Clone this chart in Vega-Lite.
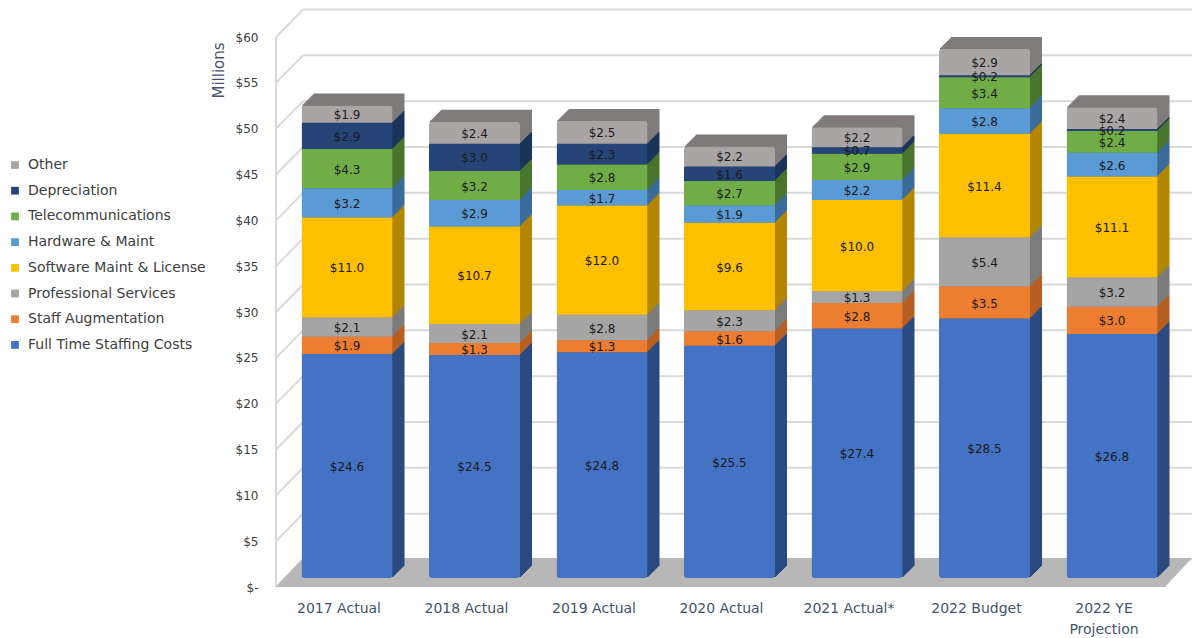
{
"$schema":"https://vega.github.io/schema/vega-lite/v6.json",
"width":889,"height":550,
"autosize":{"type":"none"},
"padding":{"left":276,"top":37,"right":27,"bottom":51},
"background":"white",
"config":{"view":{"stroke":null},"font":"DejaVu Sans"},
"datasets":{
"walls":[{"tick":0,"back":3},{"tick":5,"back":8},{"tick":10,"back":13},{"tick":15,"back":18},{"tick":20,"back":23},{"tick":25,"back":28},{"tick":30,"back":33},{"tick":35,"back":38},{"tick":40,"back":43},{"tick":45,"back":48},{"tick":50,"back":53},{"tick":55,"back":58},{"tick":60,"back":63}],
"floor":[{"level":0,"left":0,"right":1},{"level":3.16,"left":0.0304,"right":1.0304}],
"costs":[
{"year":"2017 Actual","series":"Full Time Staffing Costs","rank":1,"value":24.6},{"year":"2017 Actual","series":"Staff Augmentation","rank":2,"value":1.9},{"year":"2017 Actual","series":"Professional Services","rank":3,"value":2.1},{"year":"2017 Actual","series":"Software Maint & License","rank":4,"value":11.0},{"year":"2017 Actual","series":"Hardware & Maint","rank":5,"value":3.2},{"year":"2017 Actual","series":"Telecommunications","rank":6,"value":4.3},{"year":"2017 Actual","series":"Depreciation","rank":7,"value":2.9},{"year":"2017 Actual","series":"Other","rank":8,"value":1.9},
{"year":"2018 Actual","series":"Full Time Staffing Costs","rank":1,"value":24.5},{"year":"2018 Actual","series":"Staff Augmentation","rank":2,"value":1.3},{"year":"2018 Actual","series":"Professional Services","rank":3,"value":2.1},{"year":"2018 Actual","series":"Software Maint & License","rank":4,"value":10.7},{"year":"2018 Actual","series":"Hardware & Maint","rank":5,"value":2.9},{"year":"2018 Actual","series":"Telecommunications","rank":6,"value":3.2},{"year":"2018 Actual","series":"Depreciation","rank":7,"value":3.0},{"year":"2018 Actual","series":"Other","rank":8,"value":2.4},
{"year":"2019 Actual","series":"Full Time Staffing Costs","rank":1,"value":24.8},{"year":"2019 Actual","series":"Staff Augmentation","rank":2,"value":1.3},{"year":"2019 Actual","series":"Professional Services","rank":3,"value":2.8},{"year":"2019 Actual","series":"Software Maint & License","rank":4,"value":12.0},{"year":"2019 Actual","series":"Hardware & Maint","rank":5,"value":1.7},{"year":"2019 Actual","series":"Telecommunications","rank":6,"value":2.8},{"year":"2019 Actual","series":"Depreciation","rank":7,"value":2.3},{"year":"2019 Actual","series":"Other","rank":8,"value":2.5},
{"year":"2020 Actual","series":"Full Time Staffing Costs","rank":1,"value":25.5},{"year":"2020 Actual","series":"Staff Augmentation","rank":2,"value":1.6},{"year":"2020 Actual","series":"Professional Services","rank":3,"value":2.3},{"year":"2020 Actual","series":"Software Maint & License","rank":4,"value":9.6},{"year":"2020 Actual","series":"Hardware & Maint","rank":5,"value":1.9},{"year":"2020 Actual","series":"Telecommunications","rank":6,"value":2.7},{"year":"2020 Actual","series":"Depreciation","rank":7,"value":1.6},{"year":"2020 Actual","series":"Other","rank":8,"value":2.2},
{"year":"2021 Actual*","series":"Full Time Staffing Costs","rank":1,"value":27.4},{"year":"2021 Actual*","series":"Staff Augmentation","rank":2,"value":2.8},{"year":"2021 Actual*","series":"Professional Services","rank":3,"value":1.3},{"year":"2021 Actual*","series":"Software Maint & License","rank":4,"value":10.0},{"year":"2021 Actual*","series":"Hardware & Maint","rank":5,"value":2.2},{"year":"2021 Actual*","series":"Telecommunications","rank":6,"value":2.9},{"year":"2021 Actual*","series":"Depreciation","rank":7,"value":0.7},{"year":"2021 Actual*","series":"Other","rank":8,"value":2.2},
{"year":"2022 Budget","series":"Full Time Staffing Costs","rank":1,"value":28.5},{"year":"2022 Budget","series":"Staff Augmentation","rank":2,"value":3.5},{"year":"2022 Budget","series":"Professional Services","rank":3,"value":5.4},{"year":"2022 Budget","series":"Software Maint & License","rank":4,"value":11.4},{"year":"2022 Budget","series":"Hardware & Maint","rank":5,"value":2.8},{"year":"2022 Budget","series":"Telecommunications","rank":6,"value":3.4},{"year":"2022 Budget","series":"Depreciation","rank":7,"value":0.2},{"year":"2022 Budget","series":"Other","rank":8,"value":2.9},
{"year":"2022 YE Projection","series":"Full Time Staffing Costs","rank":1,"value":26.8},{"year":"2022 YE Projection","series":"Staff Augmentation","rank":2,"value":3.0},{"year":"2022 YE Projection","series":"Professional Services","rank":3,"value":3.2},{"year":"2022 YE Projection","series":"Software Maint & License","rank":4,"value":11.1},{"year":"2022 YE Projection","series":"Hardware & Maint","rank":5,"value":2.6},{"year":"2022 YE Projection","series":"Telecommunications","rank":6,"value":2.4},{"year":"2022 YE Projection","series":"Depreciation","rank":7,"value":0.2},{"year":"2022 YE Projection","series":"Other","rank":8,"value":2.4}
]},
"resolve":{"scale":{"x":"independent","y":"independent"}},
"layer":[
{"data":{"name":"walls"},
 "transform":[{"calculate":"0","as":"frontEdge"},{"calculate":"0.0304","as":"backEdge"},{"calculate":"1.0304","as":"backRight"},{"calculate":"0","as":"zero"},{"calculate":"60","as":"topTick"}],
 "encoding":{"y":{"field":"back","type":"quantitative","scale":{"domain":[0,60],"nice":false},
  "axis":{"orient":"left","values":[0,5,10,15,20,25,30,35,40,45,50,55,60],"labelExpr":"datum.value==0?'$-':'$'+datum.value","grid":false,"domain":false,"ticks":false,"tickSize":0,"labelPadding":18,"labelFontSize":12,"labelColor":"#404040","title":"Millions","titleFontSize":15,"titleFontWeight":"normal","titleColor":"#44546a","titleX":-50,"titleY":33,"titleAngle":-90,"titleAlign":"center","titleBaseline":"bottom"}}},
 "layer":[
 {"mark":{"type":"rule","color":"#d9d9d9","strokeWidth":2},
 "encoding":{"x":{"field":"backEdge","type":"quantitative","scale":{"domain":[0,1],"range":[0,889]},"axis":null},"x2":{"field":"backRight"}}},
 {"mark":{"type":"rule","color":"#d9d9d9","strokeWidth":2},
 "encoding":{"x":{"field":"frontEdge","type":"quantitative","scale":{"domain":[0,1],"range":[0,889]},"axis":null},"x2":{"field":"backEdge"},
 "y":{"field":"tick","type":"quantitative"},"y2":{"field":"back"}}},
 {"mark":{"type":"rule","color":"#d9d9d9","strokeWidth":2},
 "encoding":{"x":{"field":"frontEdge","type":"quantitative","scale":{"domain":[0,1],"range":[0,889]},"axis":null},
 "y":{"field":"zero","type":"quantitative"},"y2":{"field":"topTick"}}}
 ]},
{"data":{"name":"floor"},"mark":{"type":"area","orient":"horizontal","color":"#b7b7b7"},
 "encoding":{"y":{"field":"level","type":"quantitative","scale":{"domain":[0,60],"nice":false},"axis":null},
 "x":{"field":"left","type":"quantitative","scale":{"domain":[0,1],"range":[0,889]},"axis":null},"x2":{"field":"right"}}},
{"data":{"name":"costs"},
 "transform":[{"calculate":"datum.series+' side'","as":"face"}],
 "encoding":{
  "x":{"field":"year","type":"nominal","sort":null,"scale":{"range":[7.25,899.75],"paddingInner":0.286,"paddingOuter":0.143},
   "axis":{"orient":"bottom","title":null,"domain":false,"ticks":false,"labelAngle":0,"labelPadding":14,"labelFontSize":14,"labelColor":"#44546a","labelOffset":-8,"labelLineHeight":21,"labelExpr":"datum.value=='2022 YE Projection'?['2022 YE','Projection']:datum.value"}},
  "y":{"field":"value","type":"quantitative","stack":"zero","scale":{"domain":[0,60.4],"nice":false,"range":[541,-9]},"axis":null},
  "order":{"field":"rank","type":"quantitative"},
  "color":{"field":"face","type":"nominal","legend":{"title":null,"orient":"none","legendX":-268,"legendY":121,"values":["Other","Depreciation","Telecommunications","Hardware & Maint","Software Maint & License","Professional Services","Staff Augmentation","Full Time Staffing Costs"],"symbolType":"square","symbolSize":60,"labelFontSize":14,"labelColor":"#404040","rowPadding":11.7,"labelOffset":6,"labelLimit":220},"scale":{
   "domain":["Other","Depreciation","Telecommunications","Hardware & Maint","Software Maint & License","Professional Services","Staff Augmentation","Full Time Staffing Costs","Other side","Depreciation side","Telecommunications side","Hardware & Maint side","Software Maint & License side","Professional Services side","Staff Augmentation side","Full Time Staffing Costs side"],
   "range":["#a9a5a5","#264478","#70ad47","#5b9bd5","#ffc000","#a5a5a5","#ed7d31","#4472c4","#7f7b7b","#1c335a","#4a7530","#3b6c9b","#b38600","#7c7c7c","#b85f22","#2b4a80"]}}
 },
 "layer":[
  {"mark":{"type":"bar","xOffset":12,"yOffset":-12}},
  {"mark":{"type":"bar","xOffset":11,"yOffset":-11}},
  {"mark":{"type":"bar","xOffset":10,"yOffset":-10}},
  {"mark":{"type":"bar","xOffset":9,"yOffset":-9}},
  {"mark":{"type":"bar","xOffset":8,"yOffset":-8}},
  {"mark":{"type":"bar","xOffset":7,"yOffset":-7}},
  {"mark":{"type":"bar","xOffset":6,"yOffset":-6}},
  {"mark":{"type":"bar","xOffset":5,"yOffset":-5}},
  {"mark":{"type":"bar","xOffset":4,"yOffset":-4}},
  {"mark":{"type":"bar","xOffset":3,"yOffset":-3}},
  {"mark":{"type":"bar","xOffset":2,"yOffset":-2}},
  {"mark":{"type":"bar","xOffset":1,"yOffset":-1}},
  {"mark":{"type":"bar","cornerRadius":3},
   "encoding":{"color":{"field":"series","type":"nominal"}}},
  {"mark":{"type":"text","yOffset":1,"fontSize":12,"color":"#1a1a1a"},
   "encoding":{"y":{"field":"value","type":"quantitative","stack":"zero","bandPosition":0.5},
    "detail":{"field":"series"},"color":{"value":"#1a1a1a"},
    "text":{"field":"value","type":"quantitative","format":"$.1f"}}}
 ]}
]}
